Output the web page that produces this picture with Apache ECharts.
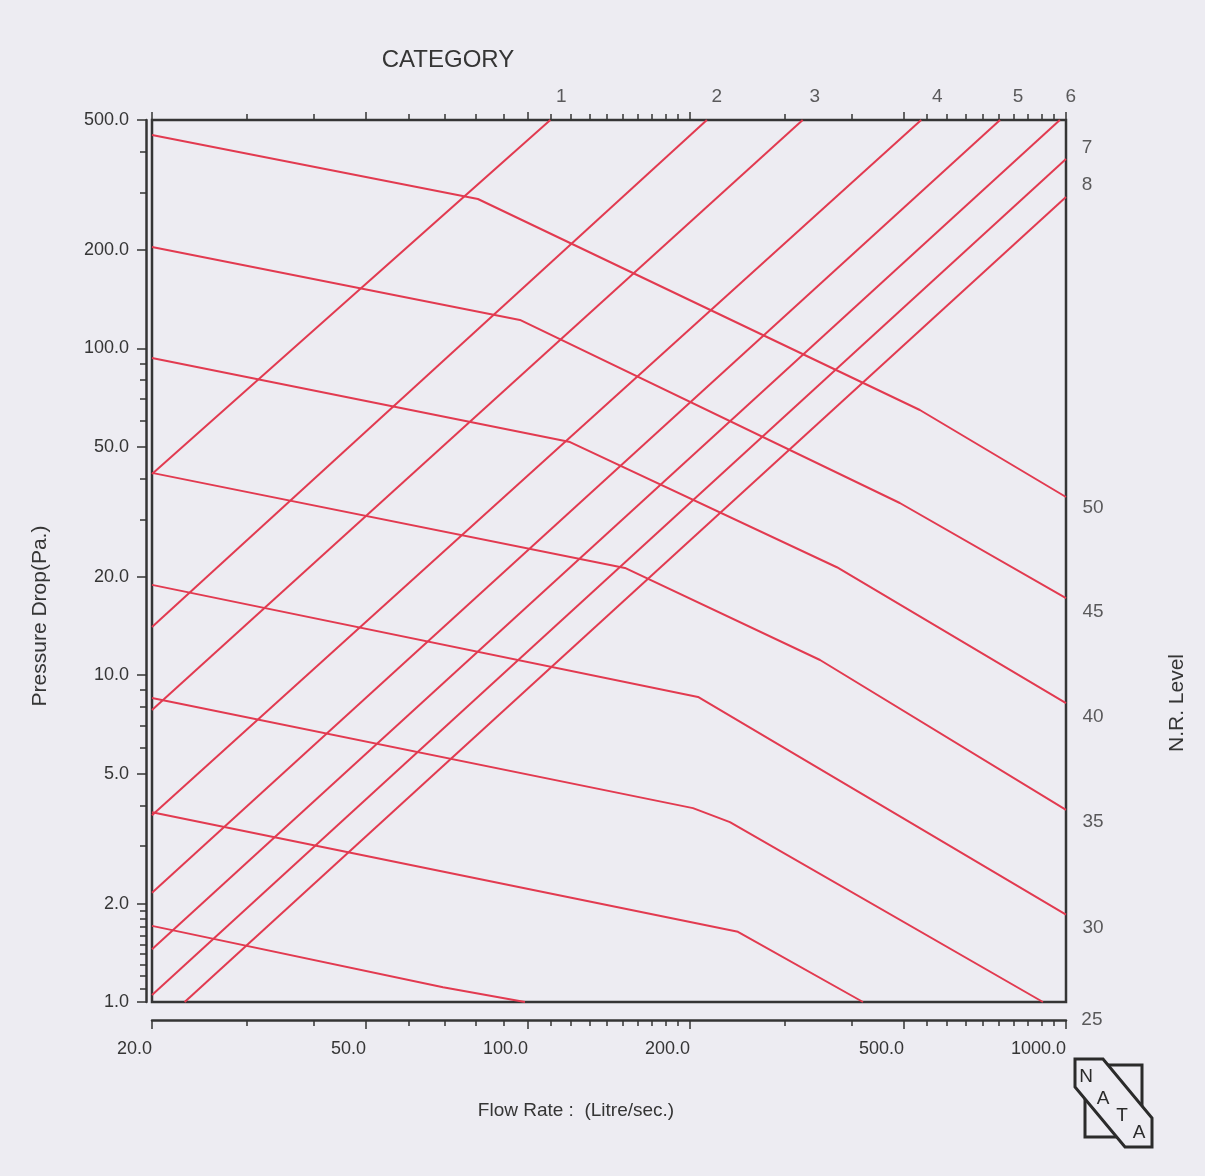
<!DOCTYPE html>
<html><head><meta charset="utf-8">
<script src="https://cdn.jsdelivr.net/npm/echarts@6/dist/echarts.min.js"></script>
<style>html,body{margin:0;padding:0;background:#edecf2;}#c{width:1205px;height:1176px;}</style>
</head><body><div id="c"></div>
<script>
// ---- tick values ----
const xMajorTicks = [20, 50, 100, 200, 500, 1000];
const xMinorTicks = [30, 40, 60, 70, 80, 90, 110, 120, 130, 140, 150, 160, 170, 180, 190, 300, 400,
  550, 600, 650, 700, 750, 800, 850, 900, 950];
const yMajorTicks = [1, 2, 5, 10, 20, 50, 100, 200, 500];
const yMinorTicks = [1.1, 1.2, 1.3, 1.4, 1.5, 1.6, 1.7, 1.8, 1.9, 3, 4, 6, 7, 8, 9, 30, 40, 60, 70, 80, 90, 300, 400];

// ---- category lines (ascending), [flow, pressure] ----
const categoryNames = ['1', '2', '3', '4', '5', '6', '7', '8'];
const catLine1 = [[20, 41.3], [110, 500]];
const catLine2 = [[20, 14.05], [215, 500]];
const catLine3 = [[20, 7.83], [324, 500]];
const catLine4 = [[20, 3.73], [538, 500]];
const catLine5 = [[20, 2.16], [754, 500]];
const catLine6 = [[20, 1.45], [974, 500]];
const catLine7 = [[20, 1.05], [1000, 380]];
const catLine8 = [[23.0, 1], [1000, 290.6]];

// ---- N.R. level lines (descending), [flow, pressure] ----
const nrNames = ['50', '45', '40', '35', '30', '25', '20', '15'];
const nrShownLabels = ['50', '45', '40', '35', '30', '25'];
const nrLine50 = [[20, 450], [80.7, 286.6], [535, 64.8], [1000, 35.1]];
const nrLine45 = [[20, 204.4], [96.6, 122.2], [491, 33.65], [1000, 17.2]];
const nrLine40 = [[20, 93.5], [119.7, 51.7], [375, 21.4], [1000, 8.22]];
const nrLine35 = [[20, 41.6], [151.4, 21.3], [349, 11.13], [1000, 3.87]];
const nrLine30 = [[20, 18.9], [207, 8.58], [1000, 1.85]];
const nrLine25 = [[20, 8.52], [202.6, 3.92], [237.3, 3.55], [906, 1]];
const nrLine20 = [[20, 3.81], [245.6, 1.64], [419.4, 1]];
const nrLine15 = [[20, 1.71], [69.5, 1.11], [98.7, 1]];

const catLines = [catLine1, catLine2, catLine3, catLine4, catLine5, catLine6, catLine7, catLine8];
const nrLines = [nrLine50, nrLine45, nrLine40, nrLine35, nrLine30, nrLine25, nrLine20, nrLine15];

// ---- styling (label offsets relative to line end) ----
const labelOffsets = {
  cat: {'1': [11, -23], '2': [10, -23], '3': [12, -23], '4': [16, -23], '5': [18, -23], '6': [11, -23], '7': [21, -11], '8': [21, -12]},
  nr: {'50': [27, 11], '45': [27, 14], '40': [27, 14], '35': [27, 12], '30': [27, 13], '25': [49, 18]}
};
const RED = '#e23a50';
const INK = '#353535';
const FONT = '"Liberation Sans", Arial, sans-serif';

const series = [];
catLines.forEach((d, i) => series.push({
  name: 'Category ' + categoryNames[i], type: 'line', data: d, symbol: 'none',
  lineStyle: {color: RED, width: 2}, silent: true
}));
nrLines.forEach((d, i) => series.push({
  name: 'N.R. ' + nrNames[i], type: 'line', data: d, symbol: 'none',
  lineStyle: {color: RED, width: 2}, silent: true
}));
const labelData = [];
catLines.forEach((d, i) => labelData.push({
  value: d[d.length - 1],
  label: {formatter: categoryNames[i], offset: labelOffsets.cat[categoryNames[i]]}
}));
nrLines.forEach((d, i) => {
  if (nrShownLabels.indexOf(nrNames[i]) < 0) return;
  labelData.push({value: d[d.length - 1], label: {formatter: nrNames[i], offset: labelOffsets.nr[nrNames[i]]}});
});
series.push({
  type: 'scatter', data: labelData, symbol: 'circle', symbolSize: 0, silent: true, clip: false,
  itemStyle: {color: 'rgba(0,0,0,0)'},
  label: {show: true, position: 'inside', align: 'center', verticalAlign: 'middle',
    fontSize: 19, fontFamily: FONT, color: INK}
});

function xAx(position, offset, ticks, len, labels) {
  return {
    type: 'log', logBase: 10, min: 20, max: 1000, position: position, offset: offset, gridIndex: 0,
    axisLine: {show: position === 'bottom' && labels, lineStyle: {color: INK, width: 2.5}},
    axisTick: {show: true, customValues: ticks, length: len, lineStyle: {color: INK, width: 1.5}},
    axisLabel: labels ? {show: true, customValues: ticks, formatter: v => Number(v).toFixed(1), align: 'right',
      margin: 20, fontSize: 18, fontFamily: FONT, color: INK} : {show: false},
    splitLine: {show: false}, minorTick: {show: false}
  };
}
function yAx(ticks, len, labels) {
  return {
    type: 'log', logBase: 10, min: 1, max: 500, position: 'left', offset: 6, gridIndex: 0,
    axisLine: {show: labels, lineStyle: {color: INK, width: 2.5}},
    axisTick: {show: true, customValues: ticks, length: len, lineStyle: {color: INK, width: 1.5}},
    axisLabel: labels ? {show: true, customValues: ticks, formatter: v => Number(v).toFixed(1),
      margin: 17, fontSize: 18, fontFamily: FONT, color: INK} : {show: false},
    splitLine: {show: false}, minorTick: {show: false}
  };
}

const option = {
  backgroundColor: '#edecf2',
  animation: false,
  grid: {left: 152, top: 120, width: 914, height: 882, show: true, borderColor: INK, borderWidth: 2.5,
    backgroundColor: 'transparent', containLabel: false},
  xAxis: [
    xAx('bottom', 18, xMajorTicks, 9, true),
    xAx('bottom', 18, xMinorTicks, 6, false),
    xAx('top', 0, xMajorTicks, 8, false),
    xAx('top', 0, xMinorTicks, 6, false)
  ],
  yAxis: [yAx(yMajorTicks, 9, true), yAx(yMinorTicks, 6, false)],
  series: series,
  graphic: [
    {type: 'text', x: 448, y: 60, silent: true,
      style: {text: 'CATEGORY', align: 'center', verticalAlign: 'middle', font: '24px ' + FONT, fill: INK}},
    {type: 'text', x: 40, y: 616, rotation: Math.PI / 2, silent: true,
      style: {text: 'Pressure Drop(Pa.)', align: 'center', verticalAlign: 'middle', font: '21px ' + FONT, fill: INK}},
    {type: 'text', x: 1177, y: 703, rotation: Math.PI / 2, silent: true,
      style: {text: 'N.R. Level', align: 'center', verticalAlign: 'middle', font: '21px ' + FONT, fill: INK}},
    {type: 'text', x: 576, y: 1111, silent: true,
      style: {text: 'Flow Rate :  (Litre/sec.)', align: 'center', verticalAlign: 'middle', font: '19px ' + FONT, fill: INK}},
    // NATA logo
    {type: 'rect', silent: true, shape: {x: 1085, y: 1065, width: 57, height: 72},
      style: {fill: 'none', stroke: '#2b2b2b', lineWidth: 3}},
    {type: 'polygon', silent: true,
      shape: {points: [[1075, 1059], [1103, 1059], [1152, 1118], [1152, 1147], [1125, 1147], [1075, 1087]]},
      style: {fill: '#edecf2', stroke: '#2b2b2b', lineWidth: 3}},
    {type: 'text', x: 1086, y: 1077, silent: true, style: {text: 'N', align: 'center', verticalAlign: 'middle', font: '19px ' + FONT, fill: '#2b2b2b'}},
    {type: 'text', x: 1103, y: 1099, silent: true, style: {text: 'A', align: 'center', verticalAlign: 'middle', font: '19px ' + FONT, fill: '#2b2b2b'}},
    {type: 'text', x: 1122, y: 1116, silent: true, style: {text: 'T', align: 'center', verticalAlign: 'middle', font: '19px ' + FONT, fill: '#2b2b2b'}},
    {type: 'text', x: 1139, y: 1133, silent: true, style: {text: 'A', align: 'center', verticalAlign: 'middle', font: '19px ' + FONT, fill: '#2b2b2b'}}
  ]
};
const chart = echarts.init(document.getElementById('c'), null, {renderer: 'canvas'});
chart.setOption(option);
</script></body></html>
